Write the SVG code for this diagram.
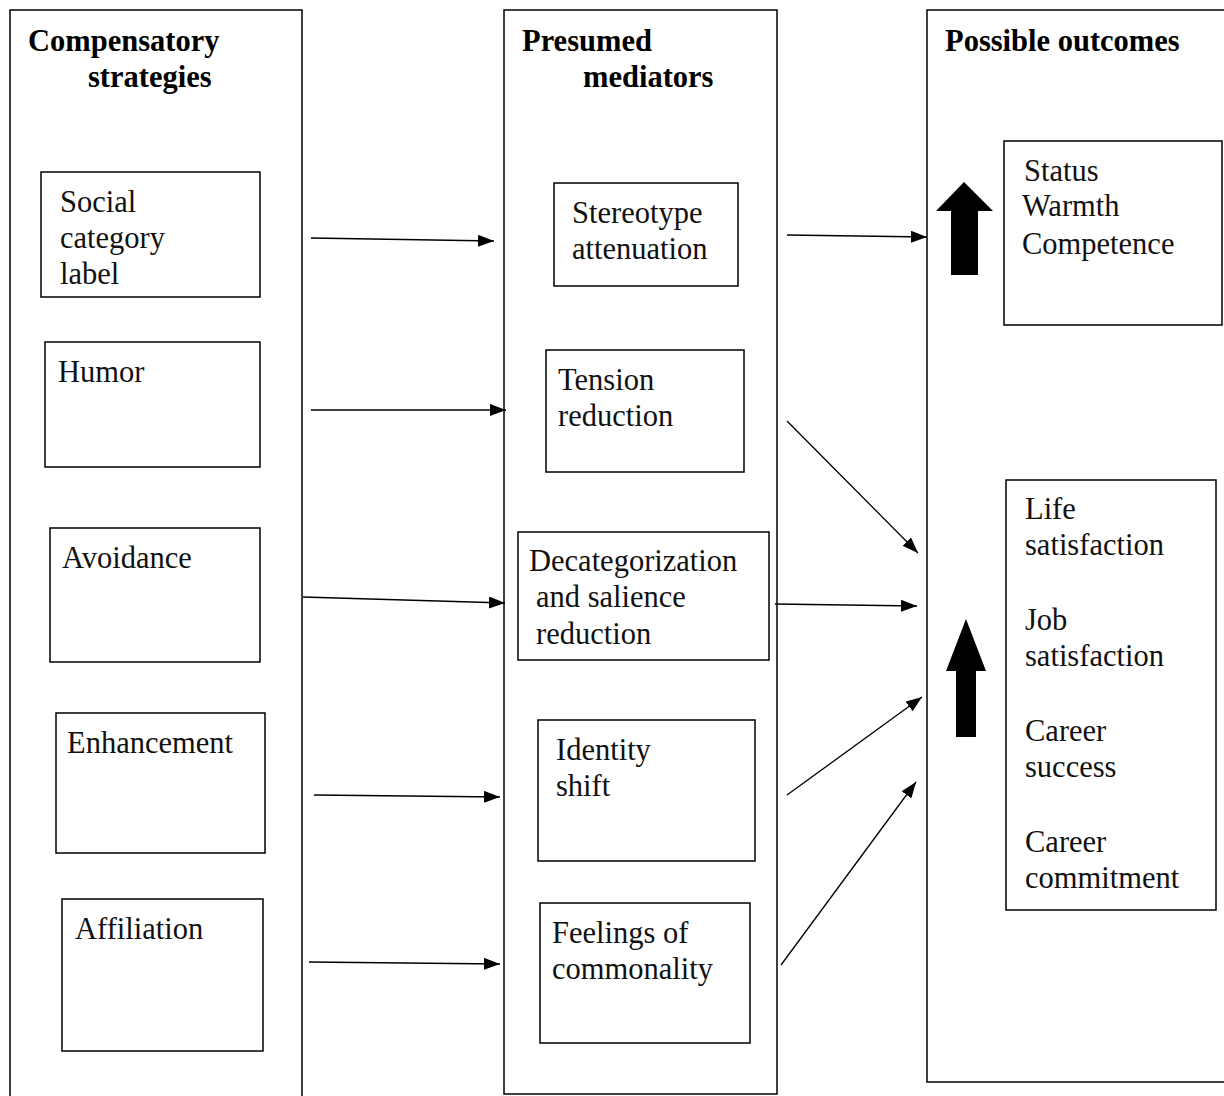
<svg xmlns="http://www.w3.org/2000/svg" width="1224" height="1096" viewBox="0 0 1224 1096">
<style>
.panel,.box{fill:#fff;stroke:#000;stroke-width:1.5}
.t{font-family:"Liberation Serif","Times New Roman",serif;font-size:30.5px;fill:#111}
.h{font-family:"Liberation Serif","Times New Roman",serif;font-size:30.5px;font-weight:bold;fill:#000}
.c{stroke:#000;stroke-width:1.3;fill:none;marker-end:url(#ah)}
</style>
<defs>
<marker id="ah" viewBox="0 0 16 12" refX="16" refY="6" markerWidth="16" markerHeight="12" markerUnits="userSpaceOnUse" orient="auto">
<path d="M0,0 L16,6 L0,12 Z" fill="#000"/>
</marker>
</defs>
<rect width="1224" height="1096" fill="#fff"/>
<g id="panel-strategies"><rect class="panel" x="10" y="10" width="292" height="1100"/>
<text class="h"><tspan x="28" y="51">Compensatory</tspan><tspan x="88" y="87">strategies</tspan></text></g>
<g id="panel-mediators"><rect class="panel" x="504" y="10" width="273" height="1084"/>
<text class="h"><tspan x="522" y="51">Presumed</tspan><tspan x="583" y="87">mediators</tspan></text></g>
<g id="panel-outcomes"><rect class="panel" x="927" y="10" width="310" height="1072"/>
<text class="h"><tspan x="945" y="51">Possible outcomes</tspan></text></g>

<g id="social"><rect class="box" x="41" y="172" width="219" height="125"/>
<text class="t"><tspan x="60" y="212">Social</tspan><tspan x="60" y="248">category</tspan><tspan x="60" y="284">label</tspan></text></g>
<g id="humor"><rect class="box" x="45" y="342" width="215" height="125"/>
<text class="t"><tspan x="58" y="382">Humor</tspan></text></g>
<g id="avoidance"><rect class="box" x="50" y="528" width="210" height="134"/>
<text class="t"><tspan x="62" y="568">Avoidance</tspan></text></g>
<g id="enhancement"><rect class="box" x="56" y="713" width="209" height="140"/>
<text class="t"><tspan x="67" y="753">Enhancement</tspan></text></g>
<g id="affiliation"><rect class="box" x="62" y="899" width="201" height="152"/>
<text class="t"><tspan x="75" y="939">Affiliation</tspan></text></g>

<g id="stereotype"><rect class="box" x="554" y="183" width="184" height="103"/>
<text class="t"><tspan x="572" y="223">Stereotype</tspan><tspan x="572" y="259">attenuation</tspan></text></g>
<g id="tension"><rect class="box" x="546" y="350" width="198" height="122"/>
<text class="t"><tspan x="558" y="390">Tension</tspan><tspan x="558" y="426">reduction</tspan></text></g>
<g id="decategorization"><rect class="box" x="518" y="532" width="251" height="128"/>
<text class="t"><tspan x="529" y="571">Decategorization</tspan><tspan x="536" y="607">and salience</tspan><tspan x="536" y="644">reduction</tspan></text></g>
<g id="identity"><rect class="box" x="538" y="720" width="217" height="141"/>
<text class="t"><tspan x="556" y="760">Identity</tspan><tspan x="556" y="796">shift</tspan></text></g>
<g id="commonality"><rect class="box" x="540" y="903" width="210" height="140"/>
<text class="t"><tspan x="552" y="943">Feelings of</tspan><tspan x="552" y="979">commonality</tspan></text></g>

<g id="status"><rect class="box" x="1004" y="141" width="218" height="184"/>
<text class="t"><tspan x="1024" y="181">Status</tspan><tspan x="1022" y="216">Warmth</tspan><tspan x="1022" y="254">Competence</tspan></text></g>
<g id="wellbeing"><rect class="box" x="1006" y="480" width="210" height="430"/>
<text class="t"><tspan x="1025" y="519">Life</tspan><tspan x="1025" y="555">satisfaction</tspan><tspan x="1025" y="630">Job</tspan><tspan x="1025" y="666">satisfaction</tspan><tspan x="1025" y="741">Career</tspan><tspan x="1025" y="777">success</tspan><tspan x="1025" y="852">Career</tspan><tspan x="1025" y="888">commitment</tspan></text></g>

<g id="block-arrows">
<polygon points="964,182 993,211 978,211 978,275 951,275 951,211 936,211" fill="#000"/>
<polygon points="966,619 986,671 976,671 976,737 956,737 956,671 946,671" fill="#000"/>
</g>

<g id="connectors">
<line class="c" x1="311" y1="238" x2="494" y2="241"/>
<line class="c" x1="311" y1="410" x2="506" y2="410"/>
<line class="c" x1="303" y1="597" x2="505" y2="603"/>
<line class="c" x1="314" y1="795" x2="500" y2="797"/>
<line class="c" x1="309" y1="962" x2="500" y2="964"/>
<line class="c" x1="787" y1="235" x2="927" y2="237"/>
<line class="c" x1="787" y1="421" x2="918" y2="553"/>
<line class="c" x1="775" y1="604" x2="917" y2="606"/>
<line class="c" x1="787" y1="795" x2="922" y2="697"/>
<line class="c" x1="781" y1="965" x2="916" y2="782"/>
</g>
</svg>
